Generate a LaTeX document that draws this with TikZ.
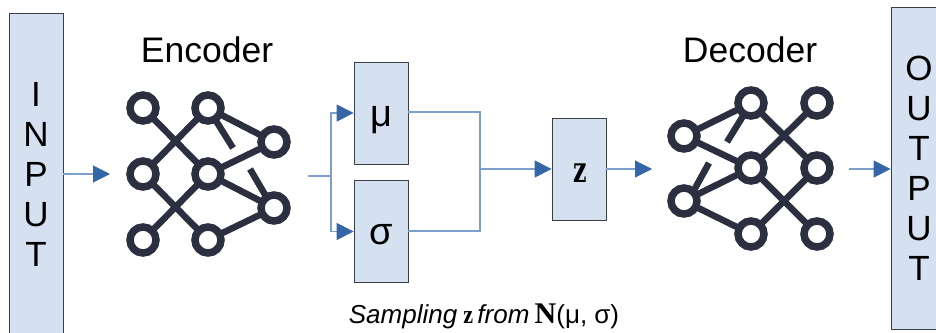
\documentclass[tikz,border=0pt]{standalone}
\usepackage{fontspec}
\setmainfont{Liberation Sans}
\newfontfamily\zfont{Liberation Serif}
\newfontfamily\zdfont{DejaVu Serif}
\usetikzlibrary{arrows.meta}
\definecolor{boxfill}{HTML}{D5E1F0}
\definecolor{boxline}{HTML}{3A3F44}
\definecolor{flow}{HTML}{7F9FCB}
\definecolor{tip}{HTML}{3566A8}
\definecolor{netc}{HTML}{2B2F40}
\tikzset{
 x=1pt,y=-1pt,
 blockbox/.style={draw=boxline,line width=0.8pt,fill=boxfill,inner sep=0pt,minimum width=54pt,anchor=center},
 tallbox/.style={blockbox,minimum height=322pt,font=\fontsize{35}{40}\selectfont,align=center},
 wire/.style={draw=flow,line width=1.1pt},
 flowarrow/.style={wire,-{Triangle[length=17pt,width=17pt,color=tip]}},
 ring/.style={circle,draw=netc,line width=7.5pt,fill=white,minimum size=26pt,inner sep=0pt,outer sep=0pt},
 link/.style={draw=netc,line width=6.5pt},
 title/.style={font=\fontsize{35.5}{38}\selectfont,inner sep=0pt},
}
\begin{document}
\begin{tikzpicture}
\useasboundingbox (0,0) rectangle (936,332);
% blocks
\node[tallbox] (input) at (36,174) {I\\N\\P\\U\\T};
\node[tallbox,minimum width=56pt] (output) at (919,168.5) {O\\U\\T\\P\\U\\T};
\node[blockbox,minimum height=102pt] (mu) at (381,113) {};
\node[blockbox,minimum height=102pt] (sigma) at (381,231.5) {};
\node[blockbox,minimum height=102pt] (z) at (579,169) {};
\node[inner sep=0pt,font=\fontsize{38}{40}\selectfont] (mul) at (381,120) {μ};
\node[inner sep=0pt,font=\fontsize{38}{40}\selectfont] (sigl) at (381,234.5) {σ};
\node[inner sep=0pt,font=\zdfont\bfseries\fontsize{36}{40}\selectfont] (zl) at (580,173) {\scalebox{0.66}[1]{z}};
\node[title] (enc) at (207,50) {Encoder};
\node[title] (dec) at (750,50) {Decoder};
\node[inner sep=0pt,font=\fontsize{26}{28}\selectfont] (cap) at (484,316) {\itshape Sampling\hspace{-1pt} {\upshape\zfont\bfseries\fontsize{26}{28}\selectfont\scalebox{0.85}[1]{z}}\hspace{-3pt} from\hspace{-2pt} {\upshape\zfont\bfseries\fontsize{30}{28}\selectfont N}{\upshape(μ, σ)}};
% encoder net
\foreach \n/\x/\y in {a/143/108,b/143/174,c/143/240,d/208/108,e/208/174,f/208/240,g/274/142,h/274/208}
  \coordinate (\n) at (\x,\y);
\coordinate (s1) at (233,148);
\coordinate (s2) at (250,169);
\coordinate (s3) at (267,198);
\foreach \p/\q in {a/e,b/d,b/f,c/e,d/g,e/g,e/h,f/h,d/s1,s2/s3}
  \draw[link] (\p) -- (\q);
\foreach \n in {a,b,c,d,e,f,g,h} \node[ring] (r\n) at (\n) {};
% decoder net
\foreach \n/\x/\y in {A/684/136,B/684/201,C/751/103,D/751/168,E/751/234,F/817/103,G/817/168,H/817/234}
  \coordinate (\n) at (\x,\y);
\coordinate (S1) at (727,142);
\coordinate (S2) at (709,163);
\coordinate (S3) at (693,192);
\foreach \p/\q in {A/C,A/D,B/D,B/E,C/G,D/F,D/H,E/G,C/S1,S2/S3}
  \draw[link] (\p) -- (\q);
\foreach \n in {A,B,C,D,E,F,G,H} \node[ring] (r\n) at (\n) {};
% connectors
\coordinate (inA) at (63,174);
\coordinate (inB) at (110,174);
\draw[flowarrow] (input.east |- inA) -- (inB);
\coordinate (split) at (331,176);
\coordinate (splitstart) at (308,176);
\draw[wire] (splitstart) -- (split);
\draw[flowarrow] (split) |- (mu.west);
\draw[flowarrow] (split) |- (sigma.west);
\coordinate (join) at (480,169);
\draw[wire] (mu.east |- 0,112) -| (join);
\draw[wire] (sigma.east |- 0,231) -| (join);
\draw[flowarrow] (join) -- (z.west);
\coordinate (zout) at (652,169);
\draw[flowarrow] (z.east) -- (zout);
\coordinate (outA) at (849,169);
\draw[flowarrow] (outA) -- (output.west |- outA);
\end{tikzpicture}
\end{document}
